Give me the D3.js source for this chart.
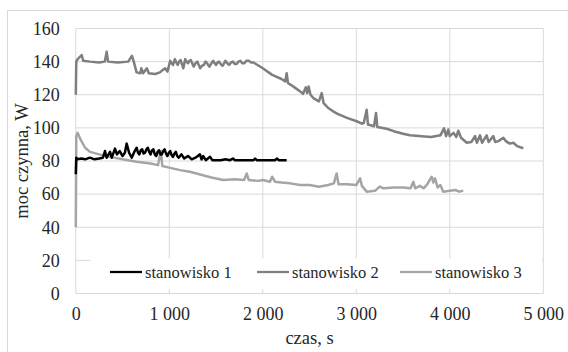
<!DOCTYPE html>
<html>
<head>
<meta charset="utf-8">
<script src="https://cdn.jsdelivr.net/npm/d3@7"></script>
<style>
  body { margin: 0; background: #fff; }
  svg text { font-family: 'Liberation Serif', 'DejaVu Serif', 'Noto Serif', serif !important; }
</style>
</head>
<body>
<div id="chart"></div>
<script>
// series names
const seriesNames = ['stanowisko 1', 'stanowisko 2', 'stanowisko 3']

// stanowisko 1: time [s], power [W]
const t1 = [0, 5, 15, 60, 100, 150, 200, 250, 290, 312, 330, 366, 385, 419, 440, 470, 500, 525, 544, 570, 598, 630, 651, 665, 680, 695, 710, 725, 740, 755, 770, 785, 800, 815, 830, 845, 860, 875, 890, 905, 920, 935, 950, 965, 980, 995, 1010, 1025, 1040, 1055, 1070, 1085, 1100, 1130, 1160, 1200, 1240, 1280, 1328, 1345, 1363, 1390, 1436, 1460, 1550, 1600, 1650, 1681, 1700, 1900, 1918, 1935, 2130, 2153, 2170, 2255]
const v1 = [72, 82, 81, 81.5, 81, 82, 81, 81.5, 82, 86, 82, 85.5, 82, 87.5, 84, 86, 83, 85, 90.5, 85, 82, 86, 88, 85, 84, 86.5, 87, 84.5, 85, 87, 88, 85.5, 84, 86.5, 87, 84, 83, 85.5, 86.5, 84, 84, 86, 87, 84.5, 83, 85, 86, 83.5, 82.5, 84.5, 85.5, 83, 82, 84, 81.5, 83, 81, 82, 84, 81, 83, 80.5, 82.5, 80.5, 80.5, 81, 80.5, 81.5, 80.5, 80.5, 81.5, 80.5, 80.5, 81.5, 80.5, 80.5]

// stanowisko 2
const t2 = [0, 5, 20, 63, 80, 150, 250, 310, 330, 345, 450, 560, 600, 620, 650, 690, 700, 720, 760, 780, 850, 900, 930, 955, 980, 1010, 1025, 1040, 1060, 1075, 1090, 1105, 1120, 1135, 1150, 1170, 1185, 1200, 1215, 1230, 1245, 1260, 1280, 1300, 1315, 1330, 1350, 1370, 1385, 1400, 1415, 1430, 1450, 1470, 1485, 1500, 1515, 1530, 1550, 1570, 1585, 1600, 1620, 1640, 1660, 1680, 1700, 1720, 1740, 1760, 1780, 1800, 1825, 1850, 1875, 1900, 2000, 2100, 2200, 2240, 2255, 2270, 2300, 2350, 2400, 2430, 2460, 2475, 2490, 2510, 2540, 2600, 2630, 2650, 2700, 2752, 2800, 2900, 3004, 3060, 3080, 3111, 3125, 3190, 3211, 3225, 3325, 3400, 3500, 3574, 3700, 3800, 3900, 3938, 3960, 3984, 4000, 4040, 4070, 4091, 4120, 4181, 4230, 4270, 4290, 4323, 4345, 4394, 4415, 4465, 4485, 4520, 4572, 4600, 4640, 4680, 4720, 4786]
const v2 = [120, 140, 141.5, 144, 140.5, 140, 139.5, 140, 146, 140, 139.5, 140, 143.5, 140, 133.5, 133, 136, 133, 136, 133, 132.5, 133.5, 135, 136, 134, 140.5, 139, 138, 141.5, 139.5, 138, 140, 141, 138.5, 136, 141.5, 140, 139, 140.5, 141, 139, 137, 139, 140, 138, 136, 137.5, 138, 140, 139.5, 138, 137, 139, 140.5, 139, 138, 139.5, 140, 138.5, 137.5, 139, 140.5, 139, 138, 139.5, 140, 138.5, 138.5, 140, 140.5, 139, 139, 140.5, 140.5, 139.5, 139.5, 136, 132, 129.5, 128, 133, 127, 126, 124, 122, 120.5, 124.5, 121, 125, 120, 118, 116, 121, 115, 112, 110, 108.5, 106, 104, 102.5, 103, 111, 102, 101, 109, 100.5, 99.5, 98, 96.5, 95.5, 95, 94.5, 95.5, 99.7, 95, 99, 95, 97, 94.5, 98.3, 94, 91, 91.5, 95, 91, 95.5, 91, 95.5, 91.5, 95, 91.5, 92, 94, 92, 90.5, 91, 89, 87.7]

// stanowisko 3
const t3 = [0, 5, 20, 50, 100, 152, 250, 366, 500, 651, 800, 880, 900, 910, 925, 1000, 1114, 1221, 1350, 1450, 1578, 1700, 1800, 1828, 1850, 1950, 2000, 2077, 2100, 2130, 2200, 2291, 2400, 2500, 2600, 2700, 2760, 2790, 2810, 2900, 3000, 3040, 3060, 3111, 3200, 3250, 3290, 3400, 3500, 3580, 3610, 3630, 3680, 3720, 3760, 3806, 3825, 3842, 3870, 3900, 3930, 4000, 4060, 4100, 4144]
const v3 = [40, 95, 97, 93, 88, 85.5, 84, 82.5, 81, 79.5, 78.5, 77.5, 84, 86, 77, 76, 74.5, 73.5, 71.5, 70, 68.5, 69, 68.5, 72.5, 68.5, 68, 68.5, 67.5, 70.5, 67.5, 67, 66.5, 65.5, 65.5, 64.5, 65.5, 66.5, 72.5, 66, 66, 65.5, 69.5, 65, 61.5, 62, 64.5, 63.5, 64, 64, 63.5, 67.5, 63.5, 65, 63.5, 66, 70.5, 67, 69.5, 64, 65.5, 61.5, 62, 62.5, 61.5, 62]

const colors = ['#000000', '#7f7f7f', '#a5a5a5']
const xTicks = [0, 1000, 2000, 3000, 4000, 5000]
const yTicks = [0, 20, 40, 60, 80, 100, 120, 140, 160]

const W = 568, H = 352
const margin = { top: 28.5, right: 24.7, bottom: 58.5, left: 75.8 }
const width = W - margin.left - margin.right
const height = H - margin.top - margin.bottom
const fontFamily = "'Liberation Serif', 'DejaVu Serif', serif"

const svg = d3.select('#chart')
  .append('svg')
  .attr('width', W)
  .attr('height', H)
  .attr('font-family', fontFamily)

// chart area border
svg.append('rect')
  .attr('x', 7.5).attr('y', 10.5)
  .attr('width', W).attr('height', H)
  .attr('fill', '#fff')
  .attr('stroke', '#d9d9d9')

const g = svg.append('g')
  .attr('transform', `translate(${margin.left},${margin.top})`)

const x = d3.scaleLinear().domain([0, 5000]).range([0, width])
const y = d3.scaleLinear().domain([0, 160]).range([height, 0])

const fmt = d => d3.format(',')(d).replace(',', '\u00a0')

// gridlines
g.append('g')
  .selectAll('line')
  .data(yTicks)
  .join('line')
  .attr('x1', 0).attr('x2', width)
  .attr('y1', d => y(d)).attr('y2', d => y(d))
  .attr('stroke', '#d9d9d9')
g.append('g')
  .selectAll('line')
  .data(xTicks)
  .join('line')
  .attr('x1', d => x(d)).attr('x2', d => x(d))
  .attr('y1', 0).attr('y2', height)
  .attr('stroke', '#d9d9d9')

// y tick labels
g.append('g')
  .call(d3.axisLeft(y).tickValues(yTicks).tickSize(0).tickPadding(16))
  .call(a => a.select('.domain').remove())
  .attr('font-family', fontFamily)
  .call(a => a.selectAll('.tick text')
    .attr('font-size', 18)
    .attr('fill', '#262626'))

// x tick labels
g.append('g')
  .attr('transform', `translate(0,${height})`)
  .call(d3.axisBottom(x).tickValues(xTicks).tickFormat(fmt).tickSize(0).tickPadding(14))
  .call(a => a.select('.domain').remove())
  .attr('font-family', fontFamily)
  .call(a => a.selectAll('.tick text')
    .attr('font-size', 18)
    .attr('fill', '#262626'))

// axis titles
svg.append('text')
  .attr('x', margin.left + width / 2)
  .attr('y', 344)
  .attr('text-anchor', 'middle')
  .attr('font-size', 18.5)
  .attr('fill', '#262626')
  .text('czas, s')

svg.append('text')
  .attr('transform', `translate(28,${margin.top + height / 2}) rotate(-90)`)
  .attr('text-anchor', 'middle')
  .attr('font-size', 18.5)
  .attr('fill', '#262626')
  .text('moc czynna, W')

// lines
const line = d3.line()
  .x(d => x(d[0]))
  .y(d => y(d[1]))

const series = [
  d3.zip(t1, v1),
  d3.zip(t2, v2),
  d3.zip(t3, v3)
]

// draw order: 3, 2, 1 so black is on top
;[2, 1, 0].forEach(i => {
  g.append('path')
    .datum(series[i])
    .attr('fill', 'none')
    .attr('stroke', colors[i])
    .attr('stroke-width', 2.5)
    .attr('stroke-linejoin', 'round')
    .attr('d', line)
})

// legend
const legend = svg.append('g')
legend.append('rect')
  .attr('x', 90).attr('y', 258)
  .attr('width', 452).attr('height', 31)
  .attr('fill', '#fff')

const legendX = [110, 257, 400]
seriesNames.forEach((name, i) => {
  const item = legend.append('g').attr('transform', `translate(${legendX[i]},272)`)
  item.append('line')
    .attr('x1', 0).attr('x2', 32)
    .attr('stroke', colors[i])
    .attr('stroke-width', 2.25)
  item.append('text')
    .attr('x', 35)
    .attr('y', 6)
    .attr('font-size', 16.5)
    .attr('fill', '#262626')
    .text(name)
})
</script>
</body>
</html>
